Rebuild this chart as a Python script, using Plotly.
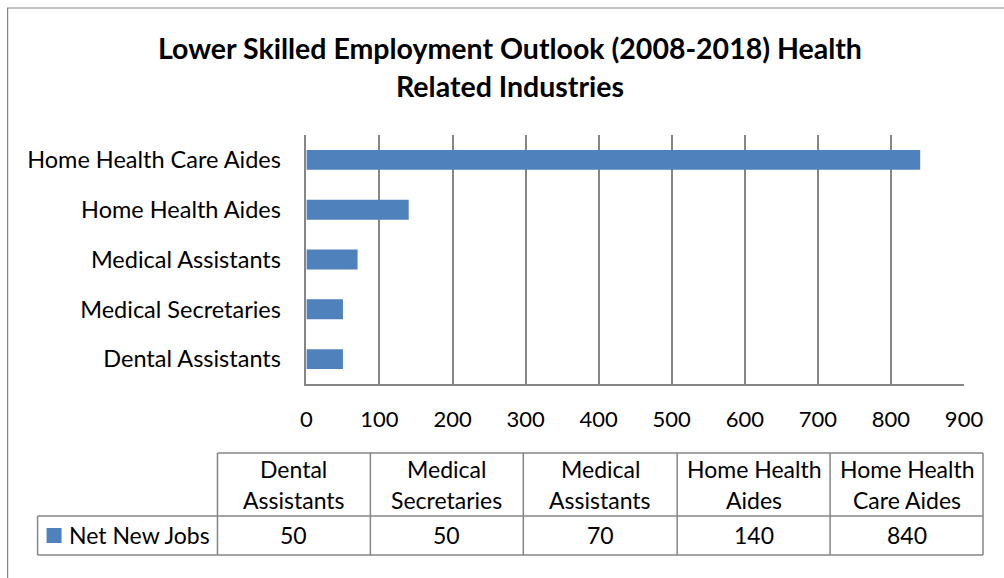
import plotly.graph_objects as go

# Occupations (bottom to top on the chart) and projected net new jobs
occupations = [
    "Dental Assistants",
    "Medical Secretaries",
    "Medical Assistants",
    "Home Health Aides",
    "Home Health Care Aides",
]
net_new_jobs = [50, 50, 70, 140, 840]
series_name = "Net New Jobs"
table_headers = [
    "Dental<br>Assistants",
    "Medical<br>Secretaries",
    "Medical<br>Assistants",
    "Home Health<br>Aides",
    "Home Health<br>Care Aides",
]
title_lines = ["Lower Skilled Employment Outlook (2008-2018) Health", "Related Industries"]
x_ticks = [0, 100, 200, 300, 400, 500, 600, 700, 800, 900]

W, H = 1004, 578
FONT = "Lato"
BAR = "#4F81BD"
LINE = "#868686"
TXT = 23

# horizontal placement helper: converts a pixel x position to paper units,
# with a small linear correction for the page's horizontal scale
SQ, OFF = 0.9757, 5.4


def px(x):
    return ((x - OFF) / SQ) / W


def py(y):
    return 1 - y / H


fig = go.Figure()
fig.add_trace(go.Bar(
    x=net_new_jobs,
    y=occupations,
    orientation="h",
    marker=dict(color=BAR, line=dict(width=0)),
    name=series_name,
    showlegend=False,
))

shapes = []
annotations = []

# outer chart border
shapes.append(dict(type="rect", xref="paper", yref="paper",
                   x0=px(7), x1=px(1012), y0=py(8), y1=py(590),
                   line=dict(color=LINE, width=1.2), fillcolor="rgba(0,0,0,0)"))

# data table grid
col_edges = [217, 370, 523, 677, 830, 983]
t_top, t_mid, t_bot = 453, 516, 555
row_left = 37


def hline(y, x0, x1):
    shapes.append(dict(type="line", xref="paper", yref="paper",
                       x0=px(x0), x1=px(x1), y0=py(y), y1=py(y),
                       line=dict(color=LINE, width=1.5)))


def vline(x, y0, y1):
    shapes.append(dict(type="line", xref="paper", yref="paper",
                       x0=px(x), x1=px(x), y0=py(y0), y1=py(y1),
                       line=dict(color=LINE, width=1.5)))


hline(t_top, col_edges[0], col_edges[-1])
hline(t_mid, row_left, col_edges[-1])
hline(t_bot, row_left, col_edges[-1])
vline(row_left, t_mid, t_bot)
for xe in col_edges:
    vline(xe, t_top, t_bot)

# header cells and value cells
for i, (hdr, val) in enumerate(zip(table_headers, net_new_jobs)):
    cx = (col_edges[i] + col_edges[i + 1]) / 2
    for j, part in enumerate(hdr.split("<br>")):
        annotations.append(dict(xref="paper", yref="paper", x=px(cx), y=py(469 + 31 * j),
                                text=part, showarrow=False, xanchor="center", yanchor="middle",
                                font=dict(family=FONT, size=TXT, color="black")))
    annotations.append(dict(xref="paper", yref="paper", x=px(cx), y=py(535),
                            text=str(val), showarrow=False, xanchor="center", yanchor="middle",
                            font=dict(family=FONT, size=TXT, color="black")))

# legend key and series label in the table
shapes.append(dict(type="rect", xref="paper", yref="paper",
                   x0=px(46), x1=px(61), y0=py(528), y1=py(543),
                   fillcolor=BAR, line=dict(width=0)))
annotations.append(dict(xref="paper", yref="paper", x=px(66), y=py(535),
                        text=series_name, showarrow=False, xanchor="left", yanchor="middle",
                        font=dict(family=FONT, size=TXT, color="black")))

# two-line bold title
for j, line in enumerate(title_lines):
    annotations.append(dict(xref="paper", yref="paper", x=px(510), y=py(48 + 38 * j),
                            text=f"<b>{line}</b>", showarrow=False,
                            xanchor="center", yanchor="middle",
                            font=dict(family=FONT, size=28.5, color="black")))

fig.update_layout(
    width=W, height=H,
    autosize=False,
    margin=dict(l=0, r=0, t=0, b=0, pad=0),
    paper_bgcolor="white",
    plot_bgcolor="white",
    bargap=0.6,
    shapes=shapes,
    annotations=annotations,
    xaxis=dict(
        domain=[px(306), px(964)],
        range=[0, 900],
        tickvals=x_ticks,
        ticktext=[str(v) for v in x_ticks],
        showgrid=True, gridcolor=LINE, gridwidth=1.5,
        showline=True, linecolor=LINE, linewidth=1.5,
        ticks="outside", ticklen=15, tickcolor="rgba(0,0,0,0)",
        tickfont=dict(family=FONT, size=22, color="black"),
        zeroline=False, fixedrange=True,
    ),
    yaxis=dict(
        domain=[py(384), py(135)],
        categoryorder="array", categoryarray=occupations,
        showgrid=False,
        showline=True, linecolor=LINE, linewidth=1.5,
        ticks="outside", ticklen=19, tickcolor="rgba(0,0,0,0)",
        tickfont=dict(family=FONT, size=23.5, color="black"),
        fixedrange=True,
    ),
)

fig.write_html(
    "out.html",
    config={"responsive": False, "displayModeBar": False},
    post_script="document.body.style.margin='0';document.body.style.overflow='hidden';",
)
